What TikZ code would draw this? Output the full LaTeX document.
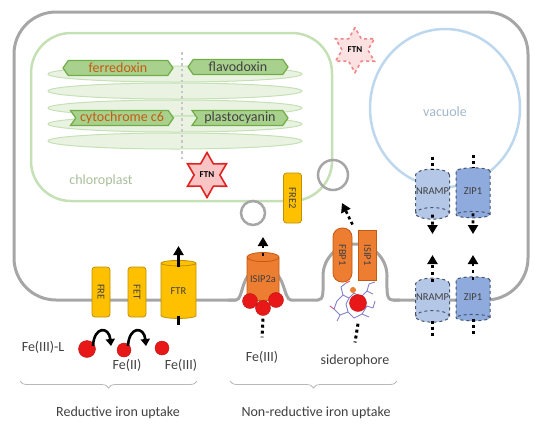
\documentclass[tikz,border=0pt]{standalone}
\usepackage{fontspec}
\setmainfont{Carlito}
\usepackage{graphicx}
\usetikzlibrary{shapes.geometric,shapes.symbols,arrows.meta,decorations.pathreplacing}

\definecolor{cellgray}{HTML}{A6A6A6}
\definecolor{chlgreen}{HTML}{C5E0B4}
\definecolor{thylfill}{HTML}{EAF3E2}
\definecolor{hexfill}{HTML}{A9D18E}
\definecolor{hexline}{HTML}{70AD47}
\definecolor{rusttext}{HTML}{C55A11}
\definecolor{feyellow}{HTML}{FFC000}
\definecolor{feyellowline}{HTML}{BF9000}
\definecolor{feorange}{HTML}{ED7D31}
\definecolor{feorangeline}{HTML}{C55A11}
\definecolor{ironred}{HTML}{E81818}
\definecolor{vacblue}{HTML}{BDD7EE}
\definecolor{nrampblue}{HTML}{B4C7E7}
\definecolor{zipblue}{HTML}{8FAADC}
\definecolor{bluedash}{HTML}{44546A}
\definecolor{ftnpink}{HTML}{F8C4C4}
\definecolor{ftnred}{HTML}{E02424}
\definecolor{labelgray}{HTML}{404040}

\begin{document}
\begin{tikzpicture}[x=1pt, y=-1pt,
    big/.style={font=\fontsize{14}{16}\selectfont, text=labelgray},
    small/.style={font=\fontsize{10.5}{12}\selectfont},
    membrane/.style={cellgray, line width=3pt},
    thylakoid/.style={draw=chlgreen, fill=thylfill, line width=1pt},
    hexprot/.style={signal, draw=hexline, fill=hexfill, line width=1.2pt, inner sep=1pt,
        minimum height=15pt, signal pointer angle=110, font=\fontsize{14}{16}\selectfont, text=labelgray},
    yellowbox/.style={draw=feyellowline, fill=feyellow, rounded corners=3pt, line width=0.8pt,
        minimum width=18pt, minimum height=50pt, inner sep=0pt, small, text=labelgray},
    orangebox/.style={draw=feorangeline, fill=feorange, line width=0.8pt,
        minimum width=18pt, minimum height=52pt, inner sep=0pt, small, text=labelgray},
    tube/.style={cylinder, shape border rotate=90, aspect=0.35, draw, line width=0.8pt,
        inner sep=0pt, small, text=labelgray},
    bluetube/.style={cylinder, shape border rotate=270, aspect=0.35, draw=bluedash, dashed,
        line width=1pt, inner sep=0pt, minimum width=34pt, small, text=labelgray},
    iron/.style={circle, fill=ironred, draw=ironred!80!black, line width=0.4pt, inner sep=0pt},
    ftn/.style={star, star points=6, star point ratio=1.75, minimum size=45pt, inner sep=0pt,
        fill=ftnpink, draw=ftnred, line width=1.6pt, font=\bfseries\fontsize{9}{10}\selectfont},
    fearrow/.style={line width=2.6pt, -{Triangle[width=10pt,length=9pt]}},
    dotline/.style={line width=3pt, dash pattern=on 3pt off 3pt},
    vesicle/.style={circle, draw=cellgray, line width=2.5pt, inner sep=0pt},
    molecule/.style={draw=gray!60!blue!70, line width=0.9pt, line join=round},
    bracegray/.style={decorate, decoration={brace, amplitude=7pt}, draw=cellgray!80, line width=0.8pt},
]
\useasboundingbox (0,0) rectangle (536,424);

% cell membrane
\draw[membrane, rounded corners=42pt] (236,300) -| (14,12) -| (528,300) -- (393,300);
\draw[membrane] (228,300) -- (236,300) .. controls (244,300) and (240,268) .. (263,268)
    .. controls (286,268) and (283,300) .. (291,300) -- (318,300)
    .. controls (324,300) and (323,292) .. (323,276) arc[start angle=180, end angle=360, radius=32]
    .. controls (387,292) and (386,300) .. (393,300) -- (400,300);

% vacuole
\draw[vacblue, line width=2.5pt] (445,108) ellipse[x radius=75, y radius=79];
\node[big, text=vacblue!85!black] (vaclabel) at (445,112) {vacuole};

% chloroplast and thylakoids
\draw[chlgreen, line width=2.5pt, rounded corners=40pt] (31,33) rectangle (332,201);
\foreach \y in {74,91,108,124,141}
    \draw[thylakoid] (175,\y) ellipse[x radius=127, y radius=8];
\draw[gray!45, line width=2.5pt, dash pattern=on 2.5pt off 3pt] (182,52) -- (182,160);
\node[hexprot, signal to=west and east, minimum width=110pt, text=rusttext] (ferredoxin) at (118,68) {ferredoxin};
\node[hexprot, signal to=west and east, minimum width=100pt] (flavodoxin) at (238,67) {flavodoxin};
\node[hexprot, signal from=west, signal to=east, minimum width=103pt, text=rusttext] (cytc6) at (122,118) {cytochrome c6};
\node[hexprot, signal from=west, signal to=east, minimum width=96pt] (plastocyanin) at (240,118) {plastocyanin};
\node[big, text=chlgreen!85!black] (chllabel) at (101,181) {chloroplast};

% ferritin
\node[ftn] (ftnchl) at (207,175) {FTN};
\node[ftn, dashed, fill=ftnpink!50, draw=ftnred!55] (ftncyt) at (355,50) {FTN};

% vesicles and FRE2
\node[vesicle, minimum size=24pt] (ves1) at (253,213) {};
\node[vesicle, minimum size=30pt] (ves2) at (333,175) {};
\node[yellowbox] (fre2) at (292.5,198) {\rotatebox{-90}{FRE2}};

% reductive uptake
\node[yellowbox] (fre) at (101,292) {\rotatebox{-90}{FRE}};
\node[yellowbox] (fet) at (137,292) {\rotatebox{-90}{FET}};
\node[tube, fill=feyellow, draw=feyellowline, minimum width=35pt, minimum height=58pt] (ftr) at (178.5,291) {FTR};
\coordinate (ftrout) at (178.5,246);
\draw[fearrow] ([yshift=-7pt]ftr.top) -- (ftrout);
\draw[line width=3pt] ([yshift=3pt]ftr.bottom) -- ([yshift=-6pt]ftr.bottom);

\node[iron, minimum size=17pt] (feL) at (87,349) {};
\node[iron, minimum size=14pt] (feII) at (124,350) {};
\node[iron, minimum size=14pt] (feIII) at (162,348) {};
\node[big] (feLlabel) at (43,347) {Fe(III)-L};
\node[big] (feIIlabel) at (127,365) {Fe(II)};
\node[big] (feIIIlabel) at (181,365) {Fe(III)};

\coordinate (freA) at (93,346); \coordinate (freB) at (111,346);
\coordinate (fetA) at (128,346); \coordinate (fetB) at (146,346);
\draw[fearrow, -{Triangle[width=9pt,length=7pt]}] (freA) .. controls (94,326) and (109,326) .. (freB);
\draw[fearrow, -{Triangle[width=9pt,length=7pt]}] (fetA) .. controls (129,326) and (144,326) .. (fetB);

% non-reductive uptake
\node[tube, fill=feorange, draw=feorangeline, minimum width=32pt, minimum height=48pt] (isip2a) at (263,279) {ISIP2a};
\coordinate (isipout) at (263,237);
\draw[fearrow, dash pattern=on 3pt off 5pt] ([yshift=-4pt]isip2a.top) -- (isipout);
\node[iron, minimum size=15pt] (fe1) at (250,301) {};
\node[iron, minimum size=15pt] (fe3) at (276,300) {};
\node[iron, minimum size=15pt] (fe2) at (263,308) {};
\node[big] (feIIIb) at (262,357) {Fe(III)};
\draw[dotline] ([yshift=-3pt]fe2.south) -- ([yshift=10pt]feIIIb.north);

\node[orangebox, rounded corners=9pt, minimum width=19pt, minimum height=54pt] (fbp1) at (342.5,255) {\rotatebox{-90}{FBP1}};
\node[orangebox, minimum height=50pt] (isip1) at (367.5,255) {\rotatebox{-90}{ISIP1}};
\coordinate (sidout) at (342,203);
\draw[fearrow, dash pattern=on 3pt off 3pt] ([xshift=10pt,yshift=3pt]fbp1.north) -- (sidout);

% siderophore
\draw[molecule] (337,301) -- (343,295) -- (349,298) -- (354,293) -- (361,297) -- (367,291) -- (373,294);
\draw[molecule] (337,301) -- (334,309) -- (340,315) -- (348,312) -- (354,318) -- (362,314) -- (369,317);
\draw[molecule] (343,295) -- (341,287) -- (346,283);
\draw[molecule] (367,291) -- (369,284) -- (375,282);
\draw[molecule] (348,312) -- (346,304) -- (349,298);
\draw[molecule] (362,314) -- (367,306) -- (373,308) -- (375,301);
\draw[molecule] (340,315) -- (337,321);
\draw[molecule, draw=red!70] (346,283) -- (350,281);
\draw[molecule, draw=purple!70] (334,309) -- (330,306);
\node[iron, minimum size=17pt] (sidfe) at (358,303) {};
\node[circle, fill=feorange, inner sep=0pt, minimum size=6pt] (sidcore) at (353,290) {};
\node[big] (sidlabel) at (355,361) {siderophore};
\draw[dotline] ([yshift=-12pt]sidfe.south) -- ([yshift=9pt]sidlabel.north);

% NRAMP and ZIP1
\node[bluetube, fill=nrampblue, minimum height=50pt] (nrampV) at (432.5,191) {NRAMP};
\node[bluetube, fill=zipblue, minimum height=50pt] (zipV) at (473,191) {ZIP1};
\node[bluetube, fill=nrampblue, minimum height=44pt] (nrampP) at (432.5,297) {NRAMP};
\node[bluetube, fill=zipblue, minimum height=44pt] (zipP) at (473,297) {ZIP1};
\coordinate (nrampVout) at (432.5,234); \coordinate (zipVout) at (473,234);
\coordinate (nrampPout) at (432.5,255); \coordinate (zipPout) at (473,255);
\foreach \t in {nrampV,zipV} {
    \draw[dotline] ([yshift=12pt]\t.north) -- ([yshift=-1pt]\t.north);
    \draw[fearrow, dash pattern=on 3pt off 4pt] ([yshift=5pt]\t.south) -- (\t out);
}
\foreach \t in {nrampP,zipP} {
    \draw[dotline] ([yshift=2pt]\t.south) -- ([yshift=-14pt]\t.south);
    \draw[fearrow, dash pattern=on 3pt off 4pt] ([yshift=-4pt]\t.north) -- (\t out);
}

% uptake groups
\draw[bracegray] (197,381) -- (20,381);
\draw[bracegray] (397,381) -- (230,381);
\node[big] (redlabel) at (118,413) {Reductive iron uptake};
\node[big] (nonredlabel) at (316,413) {Non-reductive iron uptake};
\end{tikzpicture}
\end{document}
